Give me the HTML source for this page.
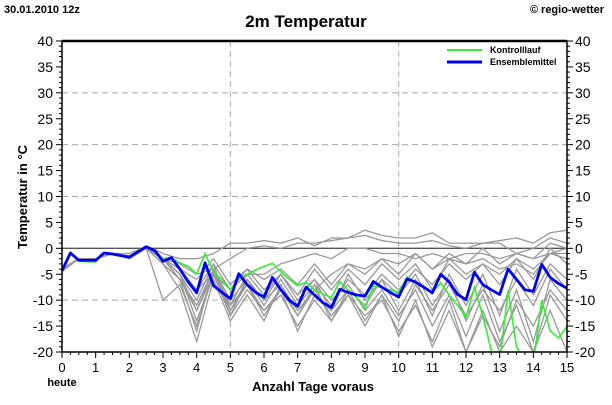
<!DOCTYPE html>
<html><head><meta charset="utf-8"><style>
body{margin:0;background:#fff;font-family:"Liberation Sans",sans-serif}
svg text{font-family:"Liberation Sans",sans-serif}
</style></head><body>
<svg id="c" width="612" height="400" xmlns="http://www.w3.org/2000/svg">
<text x="4" y="13" font-size="11" font-weight="bold">30.01.2010 12z</text>
<text x="306" y="27" font-size="17" font-weight="bold" text-anchor="middle">2m Temperatur</text>
<text x="604" y="13" font-size="11" font-weight="bold" text-anchor="end">© regio-wetter</text>
<g id="grid"></g>
<g id="members"></g>
<g id="axes"></g>
<text x="62" y="386" font-size="11" font-weight="bold" text-anchor="middle">heute</text>
<text x="313" y="391" font-size="13" font-weight="bold" text-anchor="middle">Anzahl Tage voraus</text>
<text transform="translate(27,197) rotate(-90)" font-size="13" font-weight="bold" text-anchor="middle">Temperatur in °C</text>
<g>
<line x1="447" y1="50" x2="482" y2="50" stroke="#33ee33" stroke-width="2"/>
<text x="490" y="53" font-size="9" font-weight="bold">Kontrolllauf</text>
<line x1="447" y1="62" x2="482" y2="62" stroke="#0000ee" stroke-width="3"/>
<text x="490" y="65" font-size="9" font-weight="bold">Ensemblemittel</text>
</g>
</svg>
<script>
const yTicks=[40,35,30,25,20,15,10,5,0,-5,-10,-15,-20];
const xTicks=[0,1,2,3,4,5,6,7,8,9,10,11,12,13,14,15];
const meanVals=[-4.3,-0.9,-2.3,-2.3,-2.3,-0.9,-1.1,-1.4,-1.7,-0.7,0.3,-0.4,-2.5,-1.8,-4,-6.5,-8.6,-2.8,-7.2,-8.5,-9.7,-4.9,-7,-8.5,-9.4,-5.6,-8,-10,-11.2,-7.5,-9,-10.5,-11.4,-7.9,-8.5,-9,-9.2,-6.4,-7.5,-8.5,-9.4,-5.9,-6.5,-7.5,-8.6,-5,-6.5,-8.9,-9.9,-4.6,-7,-8,-8.9,-4,-6,-8,-8.3,-3.1,-5.6,-6.8,-7.7];
const controlVals=[-4.6,-1,-2.5,-2.6,-2.6,-1,-1.2,-1.5,-1.8,-0.5,0.4,-0.3,-2,-1.8,-2.8,-3.5,-4.9,-1,-4.6,-6,-8,-5.8,-5,-4.2,-3.5,-2.9,-4.5,-6,-7.2,-6.5,-8,-8.8,-9.5,-6.4,-8,-9.5,-11.6,-7.2,-7.6,-8,-8.5,-5.5,-6.5,-7.5,-8.5,-6.7,-9,-11,-13.3,-7.5,-13,-19.7,-22,-8.1,-19,-22,-22,-10,-15.9,-17.3,-15.1];
const m1=[-4,-2,-2,-1,-1.5,0.5,-1,-2,-2,-1,1,1,1.5,1,2,0.5,2,2,3.5,2.5,2,2,3,1,1,1,1.5,2,1,3,3.5];
const m2=[-4,-2,-2,-1,-1.5,0.3,-2,-3,-5,-4,-2,0,0.5,0,1,1,1.5,2,2.5,1.5,1,1,1.5,0.5,0,1,1,-1,0,2,1];
const m3=[-4.5,-2,-2,-1,-1.5,0,-2,-4,-8,-5,-8,-5,-5,-3,-2,-1,-2,0,0,-1,-1,-2,-1,-2,-1,-1,-2,-1,-2,-1,0];
const m4=[-4,-2,-2,-1,-1.5,0,-3,-6,-12,-4,-10,-6,-10,-7,-12,-8,-5,-3,-4,-2,-3,-1,-4,-2,-3,-2,-4,-3,-5,-1,-2];
const m5=[-4,-2,-2,-1,-2,0,-10,-7,-15,-5,-13,-8,-12,-9,-15,-10,-14,-9,-13,-10,-16,-11,-18,-10,-20,-12,-20,-15,-20,-12,-20];
const m6=[-4,-2,-2,-1,-2,0,-3,-8,-18,-6,-14,-9,-14,-7,-13,-7,-11,-6,-9,-5,-8,-4,-7,-3,-6,-3,-5,-2,-4,-1,-1];
const m7=[-4,-2,-2,-1,-1,0.3,-2,-5,-10,-3,-12,-6,-11,-6,-11,-7,-14,-8,-14,-9,-17,-10,-19,-12,-20,-13,-19,-10,-15,-8,-12];
const m8=[-4,-2,-2,-1,-1.5,0,-2,-6,-16,-4,-13,-6,-10,-5,-9,-6,-10,-7,-12,-8,-13,-8,-15,-9,-17,-9,-18,-11,-20,-9,-14];
const m9=[-4,-2,-2,-1,-1.5,0,-2,-5,-14,-5,-11,-7,-13,-8,-16,-9,-12,-8,-11,-6,-9,-5,-11,-6,-14,-7,-16,-8,-18,-6,-10];
const m10=[-4,-2,-2,-1,-1.5,0,-2,-4,-6,-2,-7,-4,-6,-4,-7,-3,-7,-3,-5,-2,-5,-1,-4,-1,-3,0,-3,-1,-2,1,0];
const m11=[-4,-2,-2,-1,-1.5,0,-2,-5,-12,-5,-12,-7,-12,-8,-13,-8,-13,-9,-15,-9,-14,-7,-12,-7,-13,-8,-12,-6,-11,-4,-8];
const m12=[-4,-2,-2,-1,-1.5,0,-2,-6,-11,-4,-11,-5,-9,-5,-10,-6,-12,-5,-10,-6,-12,-6,-13,-5,-11,-5,-13,-4,-9,-3,-6];
const m13=[-4,-2,-2,-1,-1.5,0,-2,-4,-8,-3,-8,-4,-8,-5,-9,-4,-8,-4,-7,-3,-6,-3,-8,-2,-5,-3,-7,-2,-6,0,-3];
const members=[m1,m2,m3,m4,m5,m6,m7,m8,m9,m10,m11,m12,m13];

const NS="http://www.w3.org/2000/svg";
const X0=62,X1=567,Y0=41,Y1=352;
const xs=d=>X0+(d/15)*(X1-X0);
const ys=v=>Y1-(v+20)/60*(Y1-Y0);
function mk(tag,attrs,parent){const e=document.createElementNS(NS,tag);for(const k in attrs)e.setAttribute(k,attrs[k]);parent.appendChild(e);return e;}
const svg=document.getElementById('c');
const grid=document.getElementById('grid'),axes=document.getElementById('axes'),mem=document.getElementById('members');
// clip
const defs=mk('defs',{},svg);const cp=mk('clipPath',{id:'pc'},defs);mk('rect',{x:X0,y:Y0,width:X1-X0,height:Y1-Y0},cp);
mem.setAttribute('clip-path','url(#pc)');
[-10,10,20,30].forEach(v=>{const l=mk('line',{x1:X0,x2:X1,y1:ys(v),y2:ys(v),stroke:'#aaa','stroke-dasharray':'6,4'},grid);

});
[5,10].forEach(d=>{const l=mk('line',{x1:xs(d),x2:xs(d),y1:Y0,y2:Y1,stroke:'#aaa','stroke-dasharray':'6,4'},grid);

});
const zl=mk('line',{x1:X0,x2:X1,y1:ys(0),y2:ys(0),stroke:'#555','stroke-width':1.3},grid);


members.forEach((m,i)=>{const p=mk('polyline',{points:m.map((v,j)=>xs(j*0.5)+','+ys(v)).join(' '),fill:'none',stroke:'#999','stroke-width':1.3},mem);

});
const cl=mk('polyline',{points:controlVals.map((v,j)=>xs(j*0.25)+','+ys(v)).join(' '),fill:'none',stroke:'#33ee33','stroke-width':1.6},mem);


const ml=mk('polyline',{points:meanVals.map((v,j)=>xs(j*0.25)+','+ys(v)).join(' '),fill:'none',stroke:'#0000ee','stroke-width':2.8,'stroke-linejoin':'round'},mem);


// frame
const fr=mk('rect',{x:X0,y:Y0,width:X1-X0,height:Y1-Y0,fill:'none',stroke:'#000','stroke-width':1.5},axes);


mk('line',{x1:X0,x2:X1,y1:Y0,y2:Y0,stroke:'#000','stroke-width':2.5},axes);
for(let v=-20;v<=40;v++){const len=v%5===0?6:3;
mk('line',{x1:X0-len,x2:X0,y1:ys(v),y2:ys(v),stroke:'#000'},axes);
mk('line',{x1:X1,x2:X1+len,y1:ys(v),y2:ys(v),stroke:'#000'},axes);}
yTicks.forEach(v=>{const t=mk('text',{x:X0-9,y:ys(v)+5,'font-size':14,'text-anchor':'end'},axes);t.textContent=v;


const r=mk('text',{x:X1+8,y:ys(v)+5,'font-size':14},axes);r.textContent=v;

});
for(let q=0;q<=60;q++){const len=q%4===0?6:3;mk('line',{x1:xs(q/4),x2:xs(q/4),y1:Y1,y2:Y1+len,stroke:'#000'},axes);}
xTicks.forEach(d=>{const t=mk('text',{x:xs(d),y:Y1+20,'font-size':13,'text-anchor':'middle'},axes);t.textContent=d;

});
</script>
</body></html>
